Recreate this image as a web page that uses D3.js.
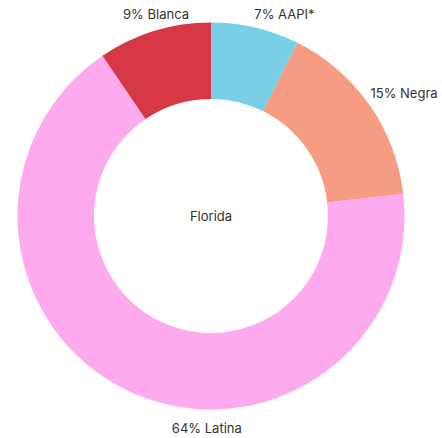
<!DOCTYPE html>
<html>
<head>
<meta charset="utf-8">
<script src="https://cdn.jsdelivr.net/npm/d3@7"></script>
<style>
  html, body { margin: 0; padding: 0; background: #fff; }
  svg { display: block; }
  text { font-family: Inter, "Noto Sans", sans-serif; fill: #333; }
</style>
</head>
<body>
<div id="chart"></div>
<script>
// Data (clockwise from 12 o'clock)
const categories = ["AAPI*", "Negra", "Latina", "Blanca"];
const values = [7, 15, 64, 9];
const colors = ["#79cfe7", "#f59c82", "#fdaaee", "#d63744"];
const centerLabel = "Florida";

const width = 442, height = 438;
const cx = 211, cy = 216;
const outerR = 193.5, innerR = 117;

// label placement tuning (degrees offset from slice mid-angle, radius)
const labelTune = {
  "AAPI*": { dAngle: 6.7, r: 215 },
  "Negra": { dAngle: 2.5, r: 229 },
  "Latina": { dAngle: -23.5, r: 212.5 },
  "Blanca": { dAngle: 1.8, r: 209 }
};

const data = categories.map((c, i) => ({ category: c, value: values[i], color: colors[i] }));

const svg = d3.select("#chart").append("svg")
  .attr("width", width).attr("height", height);

const g = svg.append("g").attr("transform", `translate(${cx},${cy})`);

const pie = d3.pie().value(d => d.value).sort(null);
const arc = d3.arc().innerRadius(innerR).outerRadius(outerR);
const arcs = pie(data);

g.selectAll("path.slice").data(arcs).join("path")
  .attr("class", "slice")
  .attr("d", arc)
  .attr("fill", d => d.data.color);

const fmt = v => Math.round(v) + "%";

g.selectAll("text.lbl").data(arcs).join("text")
  .attr("class", "lbl")
  .attr("font-size", 13)
  .attr("text-anchor", "middle")
  .attr("dominant-baseline", "central")
  .attr("x", d => {
    const t = labelTune[d.data.category];
    const a = (d.startAngle + d.endAngle) / 2 + t.dAngle * Math.PI / 180;
    return t.r * Math.sin(a);
  })
  .attr("y", d => {
    const t = labelTune[d.data.category];
    const a = (d.startAngle + d.endAngle) / 2 + t.dAngle * Math.PI / 180;
    return -t.r * Math.cos(a);
  })
  .text(d => fmt(d.data.value) + " " + d.data.category);

g.append("text")
  .attr("text-anchor", "middle")
  .attr("dominant-baseline", "central")
  .attr("font-size", 13)
  .attr("y", 0)
  .text(centerLabel);
</script>
</body>
</html>
